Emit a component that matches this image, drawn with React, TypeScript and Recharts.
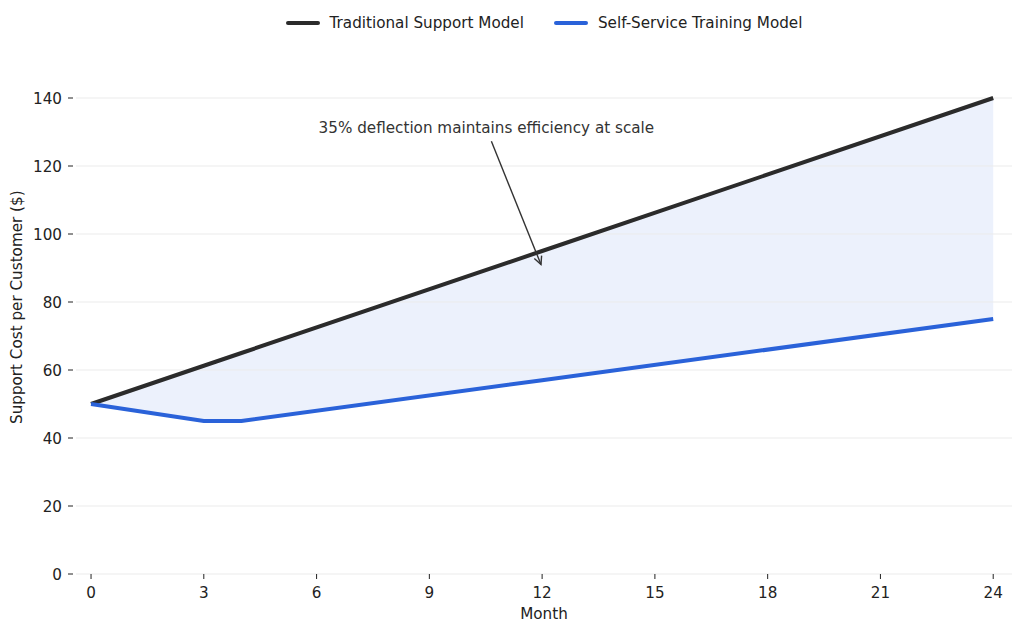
import {
  Area,
  ComposedChart,
  Line,
  ReferenceLine,
  XAxis,
  YAxis,
} from "recharts";

const months = [0, 3, 4, 12, 24];
const traditionalCost = [50, 61.25, 65, 95, 140];
const selfServiceCost = [50, 45, 45, 57, 75];
const monthTicks = [0, 3, 6, 9, 12, 15, 18, 21, 24];
const costTicks = [0, 20, 40, 60, 80, 100, 120, 140];

const SERIES = [
  { key: "traditional", name: "Traditional Support Model", color: "#2b2b2b" },
  { key: "selfService", name: "Self-Service Training Model", color: "#2a62d9" },
];

const FONT = "'DejaVu Sans', sans-serif";
const TEXT = "#222";
const FS = 15.2;

const data = months.map((m, i) => ({
  month: m,
  traditional: traditionalCost[i],
  selfService: selfServiceCost[i],
  gap: [selfServiceCost[i], traditionalCost[i]],
}));

const YTick = (props: any) => {
  const { y, payload } = props;
  return (
    <g>
      <line x1={68} x2={73} y1={y} y2={y} stroke={TEXT} strokeWidth={1} />
      <text x={62} y={y} dy={5.5} textAnchor="end" fontSize={FS} fill={TEXT} fontFamily={FONT}>
        {payload.value}
      </text>
    </g>
  );
};

const XTick = (props: any) => {
  const { x, payload } = props;
  return (
    <g>
      <line x1={x} x2={x} y1={574} y2={579} stroke={TEXT} strokeWidth={1} />
      <text x={x} y={598} textAnchor="middle" fontSize={FS} fill={TEXT} fontFamily={FONT}>
        {payload.value}
      </text>
    </g>
  );
};

const Annotation = (props: any) => {
  const { x1, y1, x2, y2 } = props;
  const ang = Math.atan2(y2 - y1, x2 - x1);
  const len = 9;
  const spread = 0.45;
  const ax = x2 - len * Math.cos(ang - spread);
  const ay = y2 - len * Math.sin(ang - spread);
  const bx = x2 - len * Math.cos(ang + spread);
  const by = y2 - len * Math.sin(ang + spread);
  return (
    <g>
      <line x1={x1} y1={y1} x2={x2} y2={y2} stroke="#333" strokeWidth={1.4} />
      <polyline
        points={`${ax},${ay} ${x2},${y2} ${bx},${by}`}
        fill="none"
        stroke="#333"
        strokeWidth={1.4}
      />
      <text x={x1 - 5} y={y1 - 8} textAnchor="middle" fontSize={FS} fill="#333" fontFamily={FONT}>
        35% deflection maintains efficiency at scale
      </text>
    </g>
  );
};

export default function App() {
  return (
    <div style={{ position: "relative", width: 1024, height: 633, background: "#fff" }}>
      <style>{`body{margin:0}`}</style>
      <div
        style={{
          position: "absolute",
          top: 14,
          left: 76,
          width: 936,
          display: "flex",
          justifyContent: "center",
          gap: 30,
          fontFamily: FONT,
          fontSize: FS,
          color: TEXT,
        }}
      >
        {SERIES.map((s) => (
          <div key={s.key} style={{ display: "flex", alignItems: "center" }}>
            <span
              style={{
                display: "inline-block",
                flex: "0 0 34px",
                width: 34,
                height: 4,
                borderRadius: 2,
                background: s.color,
                marginRight: 10,
              }}
            />
            {s.name}
          </div>
        ))}
      </div>
      <ComposedChart
        width={1024}
        height={633}
        data={data}
        margin={{ top: 64, right: 12, bottom: 19, left: 16 }}
      >
        {costTicks.map((v) => (
          <ReferenceLine key={v} y={v} stroke="#ebebeb" strokeWidth={1} />
        ))}
        <XAxis
          dataKey="month"
          type="number"
          domain={[-0.4, 24.5]}
          ticks={monthTicks}
          axisLine={false}
          tickLine={false}
          tick={<XTick />}
          height={40}
          label={{
            value: "Month",
            position: "insideBottom",
            offset: -5,
            fontSize: FS,
            fill: TEXT,
            fontFamily: FONT,
          }}
        />
        <YAxis
          type="number"
          domain={[0, 150]}
          ticks={costTicks}
          axisLine={false}
          tickLine={false}
          tick={<YTick />}
          width={60}
          label={{
            value: "Support Cost per Customer ($)",
            angle: -90,
            position: "insideLeft",
            dx: -4,
            dy: 105,
            fontSize: FS,
            fill: TEXT,
            fontFamily: FONT,
          }}
        />
        <Area
          dataKey="gap"
          type="linear"
          fill="#2a62d9"
          fillOpacity={0.09}
          stroke="none"
          isAnimationActive={false}
          activeDot={false}
        />
        {SERIES.map((s) => (
          <Line
            key={s.key}
            dataKey={s.key}
            name={s.name}
            type="linear"
            stroke={s.color}
            strokeWidth={4}
            dot={false}
            activeDot={false}
            isAnimationActive={false}
          />
        ))}
        <ReferenceLine
          segment={[
            { x: 10.65, y: 127.3 },
            { x: 11.97, y: 91 },
          ]}
          shape={<Annotation />}
        />
      </ComposedChart>
    </div>
  );
}
